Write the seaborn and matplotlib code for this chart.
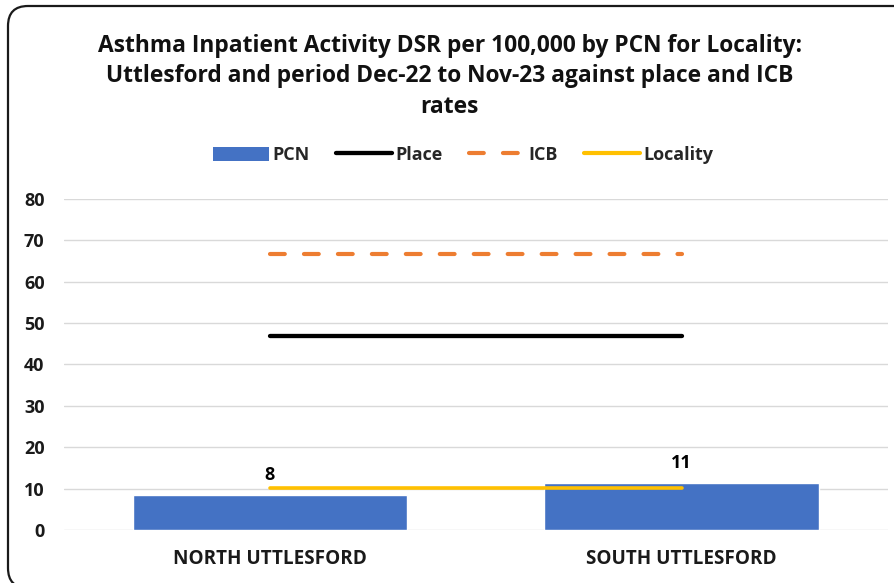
import matplotlib
matplotlib.use("Agg")
import matplotlib.pyplot as plt
import seaborn as sns
import pandas as pd
from matplotlib.patches import FancyBboxPatch, Patch
from matplotlib.lines import Line2D

# data
pcns = ["NORTH UTTLESFORD", "SOUTH UTTLESFORD"]
pcn_rate = [8.5, 11.35]
place_rate = [46.9, 46.9]
icb_rate = [66.7, 66.7]
locality_rate = [10.1, 10.1]

BLUE = "#4472C4"
ORANGE = "#ED7D31"
YELLOW = "#FFC000"

sns.set_theme(style="white")
plt.rcParams["font.family"] = ["Open Sans", "DejaVu Sans"]

df = pd.DataFrame({"PCN": pcns, "rate": pcn_rate})

fig = plt.figure(figsize=(8.94, 5.83), dpi=100)
ax = fig.add_axes([0.0716, 0.0909, 0.9214, 0.5678])

sns.barplot(data=df, x="PCN", y="rate", color=BLUE, width=0.667,
            saturation=1, ax=ax, zorder=2)
ax.bar_label(ax.containers[0], fmt="%.0f", padding=8,
             fontsize=13, fontweight="bold", color="black")

ax.plot(pcns, place_rate, color="black", lw=3.1, solid_capstyle="round", zorder=3)
ax.plot(pcns, icb_rate, color=ORANGE, lw=3, dashes=(3.55, 4.6),
        dash_capstyle="round", zorder=3)
ax.plot(pcns, locality_rate, color=YELLOW, lw=2.6, solid_capstyle="round", zorder=3)

ax.set_xlim(-0.5, 1.5)
ax.set_ylim(0, 80)
ax.set_yticks(range(0, 81, 10))
ax.yaxis.grid(True, color="#d9d9d9", lw=1)
ax.set_axisbelow(True)
for s in ax.spines.values():
    s.set_visible(False)
ax.set_xlabel("")
ax.set_ylabel("")
ax.tick_params(axis="both", length=0)
ax.tick_params(axis="y", pad=14, labelsize=13)
ax.tick_params(axis="x", pad=14, labelsize=13.6)
for lab in ax.get_xticklabels() + ax.get_yticklabels():
    lab.set_fontweight("bold")
    lab.set_color("#1a1a1a")

fig.text(0.503, 0.869,
         "Asthma Inpatient Activity DSR per 100,000 by PCN for Locality:\n"
         "Uttlesford and period Dec-22 to Nov-23 against place and ICB\nrates",
         ha="center", va="center", fontsize=16.4, fontweight="bold",
         linespacing=1.37, color="#111111")

handles = [
    Patch(facecolor=BLUE, edgecolor="none"),
    Line2D([], [], color="black", lw=3.1),
    Line2D([], [], color=ORANGE, lw=3, dashes=(3.55, 4.6), dash_capstyle="round"),
    Line2D([], [], color=YELLOW, lw=3),
]
leg = fig.legend(handles, ["PCN", "Place", "ICB", "Locality"], loc="center",
                 bbox_to_anchor=(0.518, 0.734), ncol=4, frameon=False,
                 handlelength=3.1, handleheight=0.8, columnspacing=1.45,
                 handletextpad=0.2, prop={"weight": "bold", "size": 13})

# chart frame: only top and left edges fall inside the picture
border = FancyBboxPatch((0.08, -0.05), 9.5, 5.82,
                        boxstyle="round,pad=0,rounding_size=0.2",
                        transform=fig.dpi_scale_trans, fill=False,
                        edgecolor="#1a1a1a", lw=1.6)
fig.patches.append(border)

fig.savefig("out.png", dpi=100)
